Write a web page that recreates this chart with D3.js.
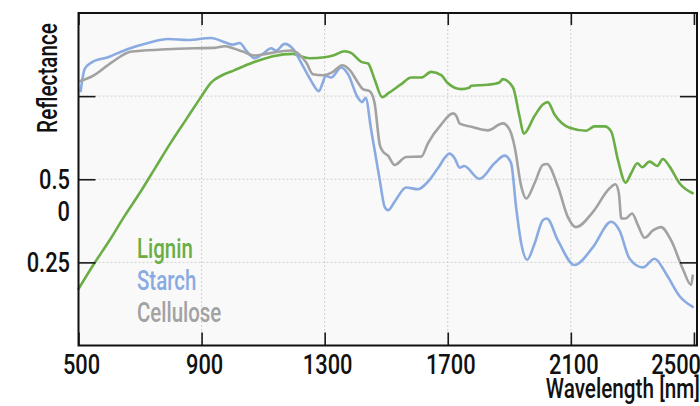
<!DOCTYPE html>
<html>
<head>
<meta charset="utf-8">
<script src="https://cdn.jsdelivr.net/npm/d3@7"></script>
<style>
  html, body { margin: 0; padding: 0; background: #ffffff; }
  svg { display: block; }
  text { font-family: Roboto, "DejaVu Sans", sans-serif; font-weight: 500; }
</style>
</head>
<body>
<svg id="chart" width="700" height="406"></svg>
<script>
// Reflectance spectra: wavelength (nm) and reflectance per compound
const ligninNm = [500, 550, 600, 650, 700, 750, 800, 850, 900, 930, 965, 1002, 1067, 1132, 1197, 1215, 1251, 1300, 1330, 1365, 1386, 1419, 1441, 1462, 1487, 1506, 1549, 1581, 1614, 1646, 1679, 1698, 1744, 1770, 1776, 1830, 1868, 1879, 1912, 1933, 1947, 1982, 2009, 2025, 2047, 2096, 2150, 2177, 2210, 2231, 2253, 2278, 2296, 2316, 2332, 2356, 2381, 2399, 2421, 2453, 2496];
const ligninR = [0.17, 0.245, 0.315, 0.39, 0.46, 0.535, 0.61, 0.68, 0.75, 0.79, 0.812, 0.826, 0.851, 0.870, 0.877, 0.872, 0.864, 0.867, 0.873, 0.885, 0.880, 0.853, 0.848, 0.801, 0.747, 0.758, 0.786, 0.806, 0.806, 0.823, 0.813, 0.791, 0.771, 0.775, 0.781, 0.784, 0.791, 0.801, 0.776, 0.69, 0.637, 0.69, 0.725, 0.732, 0.695, 0.655, 0.646, 0.659, 0.659, 0.644, 0.558, 0.49, 0.518, 0.548, 0.536, 0.553, 0.54, 0.561, 0.538, 0.488, 0.458];

const starchNm = [507, 520, 542, 596, 661, 726, 791, 856, 931, 975, 1002, 1024, 1045, 1072, 1099, 1126, 1142, 1170, 1197, 1229, 1256, 1281, 1294, 1303, 1321, 1354, 1376, 1408, 1422, 1433, 1451, 1479, 1495, 1506, 1527, 1565, 1603, 1636, 1668, 1706, 1722, 1739, 1753, 1803, 1852, 1885, 1906, 1922, 1939, 1958, 1982, 2009, 2022, 2058, 2112, 2172, 2231, 2258, 2291, 2334, 2372, 2410, 2453, 2496];
const starchR = [0.765, 0.831, 0.851, 0.867, 0.892, 0.91, 0.922, 0.919, 0.925, 0.912, 0.905, 0.91, 0.887, 0.864, 0.877, 0.894, 0.887, 0.907, 0.892, 0.841, 0.796, 0.765, 0.791, 0.811, 0.806, 0.836, 0.816, 0.745, 0.732, 0.745, 0.649, 0.498, 0.417, 0.407, 0.432, 0.475, 0.47, 0.493, 0.533, 0.577, 0.564, 0.535, 0.54, 0.501, 0.548, 0.571, 0.548, 0.417, 0.306, 0.258, 0.306, 0.377, 0.382, 0.316, 0.242, 0.296, 0.372, 0.346, 0.261, 0.235, 0.261, 0.215, 0.149, 0.116];

const celluloseNm = [507, 547, 607, 672, 769, 878, 943, 975, 1002, 1034, 1072, 1110, 1154, 1191, 1219, 1240, 1262, 1294, 1327, 1357, 1381, 1408, 1424, 1446, 1462, 1479, 1489, 1506, 1527, 1565, 1614, 1636, 1679, 1717, 1728, 1739, 1776, 1830, 1879, 1901, 1917, 1939, 1955, 1982, 2009, 2022, 2058, 2090, 2117, 2172, 2226, 2245, 2256, 2264, 2278, 2299, 2318, 2340, 2367, 2393, 2426, 2464, 2491, 2496];
const celluloseR = [0.796, 0.811, 0.851, 0.884, 0.89, 0.894, 0.895, 0.9, 0.894, 0.884, 0.872, 0.877, 0.884, 0.887, 0.874, 0.851, 0.816, 0.813, 0.823, 0.843, 0.829, 0.791, 0.771, 0.765, 0.73, 0.604, 0.584, 0.571, 0.543, 0.567, 0.568, 0.609, 0.665, 0.698, 0.69, 0.667, 0.658, 0.647, 0.668, 0.649, 0.599, 0.478, 0.442, 0.488, 0.543, 0.546, 0.478, 0.387, 0.356, 0.402, 0.473, 0.485, 0.458, 0.382, 0.382, 0.397, 0.362, 0.324, 0.346, 0.356, 0.316, 0.23, 0.182, 0.21];

const seriesNames = ["Lignin", "Starch", "Cellulose"];
const seriesColors = ["#6aae45", "#8aabe2", "#a2a2a2"];

// Axis ticks and labels
const xTicks = [500, 900, 1300, 1700, 2100, 2500];
const yTicks = [0.25, 0.5, 0.75];
const yLabelValues = [0.25, 0.404, 0.5];
const yLabelTexts = ["0.25", "0", "0.5"];

const svg = d3.select("#chart");
const plotLeft = 78.5, plotRight = 697, plotTop = 13, plotBottom = 345.5;
const W = 700;

const x = d3.scaleLinear().domain([500, 2510]).range([plotLeft, plotRight]);
const y = d3.scaleLinear().domain([0, 1]).range([plotBottom, plotTop]);

// Condensed lettering: text squeezed horizontally inside a positioned group
function label(parent, tx, ty, str, opts) {
  const o = Object.assign({ size: 28, anchor: "start", fill: "#111", squeeze: 0.76, rotate: 0, dy: null }, opts || {});
  const g = parent.append("g")
    .attr("transform", `translate(${tx},${ty}) rotate(${o.rotate}) scale(${o.squeeze},1)`);
  const t = g.append("text")
    .attr("x", 0).attr("y", 0)
    .attr("text-anchor", o.anchor)
    .attr("font-size", o.size)
    .attr("fill", o.fill)
    .text(str);
  if (o.dy) t.attr("dy", o.dy);
  return t;
}

// Plot background
svg.append("rect")
  .attr("x", plotLeft).attr("y", plotTop)
  .attr("width", plotRight - plotLeft).attr("height", plotBottom - plotTop)
  .attr("fill", "#f9f9f9");

// Dotted grid
const grid = svg.append("g");
grid.selectAll("line.h").data(yTicks).join("line")
  .attr("x1", plotLeft).attr("x2", plotRight)
  .attr("y1", d => y(d)).attr("y2", d => y(d))
  .attr("stroke", "#cfcfcf").attr("stroke-width", 1).attr("stroke-dasharray", "2,2");
grid.selectAll("line.v").data(xTicks.filter(d => d > 500 && d < 2500)).join("line")
  .attr("y1", plotTop).attr("y2", plotBottom)
  .attr("x1", d => x(d)).attr("x2", d => x(d))
  .attr("stroke", "#cfcfcf").attr("stroke-width", 1).attr("stroke-dasharray", "2,2");

// Spectra
const series = [
  { nm: ligninNm, r: ligninR },
  { nm: starchNm, r: starchR },
  { nm: celluloseNm, r: celluloseR }
];
const line = d3.line()
  .x(d => x(d[0]))
  .y(d => y(d[1]))
  .curve(d3.curveMonotoneX);

series.forEach((s, i) => {
  const pts = s.nm.map((n, k) => [n, s.r[k]]);
  svg.append("path")
    .datum(pts)
    .attr("d", line)
    .attr("fill", "none")
    .attr("stroke", seriesColors[i])
    .attr("stroke-width", 2.6)
    .attr("stroke-linejoin", "round")
    .attr("stroke-linecap", "round");
});

// Axes with inward ticks on all four sides
const tickColor = "#1a1a1a";
svg.append("g").attr("transform", `translate(0,${plotBottom})`)
  .call(d3.axisBottom(x).tickValues(xTicks).tickSize(-13).tickFormat(""))
  .call(g => g.select(".domain").remove())
  .call(g => g.selectAll("line").attr("stroke", tickColor).attr("stroke-width", 1.6));
svg.append("g").attr("transform", `translate(0,${plotTop})`)
  .call(d3.axisTop(x).tickValues(xTicks).tickSize(-12).tickFormat(""))
  .call(g => g.select(".domain").remove())
  .call(g => g.selectAll("line").attr("stroke", tickColor).attr("stroke-width", 1.6));
svg.append("g").attr("transform", `translate(${plotLeft},0)`)
  .call(d3.axisLeft(y).tickValues(yTicks).tickSize(-17).tickFormat(""))
  .call(g => g.select(".domain").remove())
  .call(g => g.selectAll("line").attr("stroke", tickColor).attr("stroke-width", 1.6));
svg.append("g").attr("transform", `translate(${plotRight},0)`)
  .call(d3.axisRight(y).tickValues(yTicks).tickSize(-17).tickFormat(""))
  .call(g => g.select(".domain").remove())
  .call(g => g.selectAll("line").attr("stroke", tickColor).attr("stroke-width", 1.6));

// Frame
svg.append("rect")
  .attr("x", plotLeft).attr("y", plotTop)
  .attr("width", plotRight - plotLeft).attr("height", plotBottom - plotTop)
  .attr("fill", "none").attr("stroke", "#111").attr("stroke-width", 2);

// Tick labels; the last one is pulled in against the right edge
const labels = svg.append("g");
xTicks.forEach((d, i) => {
  const last = i === xTicks.length - 1;
  label(labels, last ? W + 1 : x(d) + 3, 374, String(d),
    { anchor: last ? "end" : "middle", squeeze: 0.78 });
});
yLabelValues.forEach((d, i) => label(labels, 70, y(d), yLabelTexts[i], { anchor: "end", squeeze: 0.78, dy: "0.36em" }));

// Axis titles
label(svg, W, 398, "Wavelength [nm]", { anchor: "end", size: 28, squeeze: 0.74 });
label(svg, 57, 78, "Reflectance", { anchor: "middle", size: 28, rotate: -90, squeeze: 0.74 });

// Legend
seriesNames.forEach((name, i) =>
  label(svg, 137, 258 + i * 32, name, { size: 28, fill: seriesColors[i], squeeze: 0.73 }));
</script>
</body>
</html>
